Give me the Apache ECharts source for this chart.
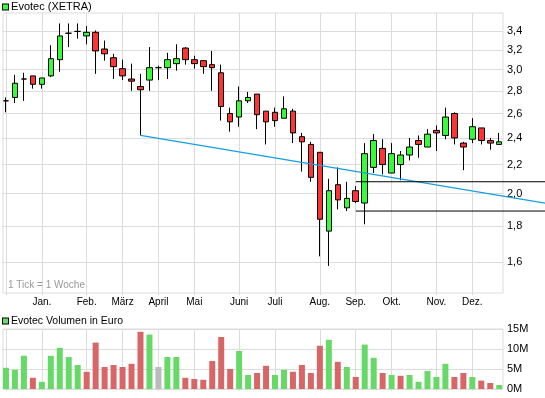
<!DOCTYPE html>
<html>
<head>
<meta charset="utf-8">
<script src="https://cdn.jsdelivr.net/npm/echarts@6/dist/echarts.min.js"></script>
<style>
  html, body { margin: 0; padding: 0; background: #fff; }
  #chart_evotec { width: 545px; height: 398px; }
</style>
</head>
<body>
<div id="chart_evotec"></div>
<script>
  // weekly candles (1 Tick = 1 Woche), index 0 = first week of December
  const opens = [2.71, 2.74, 2.91, 2.94, 2.86, 2.94, 3.10, 3.38, 3.40, 3.35,
    3.39, 3.21, 3.12, 3.01, 2.91, 2.84, 2.90, 3.02, 3.02, 3.06,
    3.22, 3.10, 3.09, 3.05, 2.97, 2.60, 2.57, 2.71, 2.77, 2.62,
    2.61, 2.56, 2.62, 2.41, 2.35, 2.29, 1.77, 2.06, 1.91, 2.02,
    1.94, 2.18, 2.32, 2.14, 2.20, 2.27, 2.38, 2.33, 2.46, 2.42,
    2.60, 2.36, 2.39, 2.48, 2.38, 2.35]
  const closes = [2.71, 2.87, 2.91, 2.86, 2.92, 3.11, 3.35, 3.38, 3.40, 3.39,
    3.19, 3.16, 3.03, 2.94, 2.89, 2.81, 3.02, 3.02, 3.10, 3.11,
    3.10, 3.06, 3.03, 3.02, 2.66, 2.53, 2.71, 2.74, 2.59, 2.53,
    2.54, 2.64, 2.44, 2.37, 2.11, 1.84, 2.02, 1.96, 1.97, 1.95,
    2.28, 2.38, 2.20, 2.28, 2.27, 2.33, 2.35, 2.43, 2.44, 2.57,
    2.40, 2.33, 2.49, 2.38, 2.36, 2.37]
  const lows = [2.61, 2.69, 2.71, 2.82, 2.82, 2.93, 2.98, 3.23, 3.32, 3.26,
    2.96, 3.09, 2.91, 2.90, 2.80, 2.42, 2.80, 2.90, 2.91, 2.99,
    3.05, 3.01, 2.96, 2.80, 2.54, 2.45, 2.49, 2.69, 2.47, 2.35,
    2.49, 2.56, 2.36, 2.15, 2.08, 1.63, 1.58, 1.90, 1.89, 1.94,
    1.81, 2.14, 2.13, 2.14, 2.09, 2.23, 2.25, 2.33, 2.30, 2.39,
    2.35, 2.16, 2.36, 2.35, 2.31, 2.35]
  const highs = [2.74, 2.95, 2.97, 2.94, 2.92, 3.25, 3.49, 3.49, 3.49, 3.46,
    3.41, 3.30, 3.16, 3.10, 3.06, 2.96, 3.23, 3.04, 3.17, 3.26,
    3.23, 3.14, 3.09, 3.19, 3.05, 2.65, 2.84, 2.79, 2.77, 2.62,
    2.65, 2.75, 2.64, 2.44, 2.37, 2.29, 2.10, 2.18, 2.08, 2.05,
    2.36, 2.43, 2.39, 2.36, 2.30, 2.40, 2.42, 2.47, 2.50, 2.65,
    2.61, 2.37, 2.56, 2.48, 2.40, 2.44]
  // Volumen in Mio. Euro
  const volumes = [5.3, 4.8, 8.3, 2.8, 1.8, 8.3, 10.3, 8.0, 6.0, 4.3,
    11.6, 5.5, 6.0, 5.5, 6.3, 14.3, 13.6, 5.5, 8.0, 8.0,
    2.8, 2.5, 2.3, 7.0, 13.0, 5.0, 9.5, 3.5, 4.0, 5.8,
    3.5, 4.8, 4.3, 6.0, 4.0, 10.8, 12.3, 6.8, 5.5, 3.0,
    11.1, 7.8, 4.0, 3.5, 3.3, 3.5, 1.8, 4.5, 3.0, 6.3,
    3.0, 4.0, 3.0, 2.1, 1.5, 1.0]

  const monthWeeks = [0, 4, 9, 13, 17, 21, 26, 30, 35, 39, 43, 48, 52]
  const monthLabels = ['', 'Jan.', 'Feb.', 'März', 'April', 'Mai', 'Juni', 'Juli',
    'Aug.', 'Sep.', 'Okt.', 'Nov.', 'Dez.']
  const priceTicks = [1.6, 1.8, 2.0, 2.2, 2.4, 2.6, 2.8, 3.0, 3.2, 3.4]
  const volumeTicks = [0, 5, 10, 15]

  // drawn lines: [week, price]
  const trendLine = [[15, 2.42], [60.1, 1.94]]
  const supportHigh = [[39, 2.08], [60.1, 2.08]]
  const supportLow = [[39, 1.89], [60.1, 1.89]]

  const FONT = 'Liberation Sans'
  const GRID_COLOR = '#dcdcdc'
  const PRICE_MIN = 1.4458
  const PRICE_MAX = 3.611

  let chart = echarts.init(document.getElementById('chart_evotec'), null, { renderer: 'canvas' })

  function monthName (v) {
    let i = monthWeeks.indexOf(Math.round(v))
    return i >= 0 ? monthLabels[i] : ''
  }

  function xAxisFor (grid, showLabels) {
    return {
      type: 'value',
      gridIndex: grid,
      min: -0.33,
      max: 55.42,
      axisLine: { show: false },
      axisTick: { show: true, length: 2, customValues: monthWeeks, lineStyle: { color: GRID_COLOR } },
      axisLabel: {
        show: showLabels,
        customValues: monthWeeks,
        formatter: monthName,
        margin: 4,
        fontSize: 10,
        fontFamily: FONT,
        color: '#000'
      },
      splitLine: { show: true, lineStyle: { color: GRID_COLOR, width: 1 } }
    }
  }

  function overlayLine (data, color, width) {
    return {
      type: 'line',
      xAxisIndex: 2,
      yAxisIndex: 2,
      symbol: 'none',
      silent: true,
      data: data,
      lineStyle: { color: color, width: width }
    }
  }

  let options = {
    animation: false,
    title: [
      {
        text: '{b|} Evotec (XETRA)',
        left: 3,
        top: 0,
        padding: 0,
        textStyle: {
          fontSize: 11, fontWeight: 'normal', fontFamily: FONT, color: '#000', lineHeight: 14,
          rich: { b: { width: 5, height: 5, backgroundColor: '#33ff33', borderColor: '#000', borderWidth: 1 } }
        }
      },
      {
        text: '{b|} Evotec Volumen in Euro',
        left: 3,
        top: 314,
        padding: 0,
        textStyle: {
          fontSize: 10.5, fontWeight: 'normal', fontFamily: FONT, color: '#000', lineHeight: 14,
          rich: { b: { width: 5, height: 5, backgroundColor: '#66dd66', borderColor: '#000', borderWidth: 1 } }
        }
      },
      {
        text: '1 Tick = 1 Woche',
        left: 8,
        top: 280,
        padding: 0,
        textStyle: { fontSize: 10, fontWeight: 'normal', fontFamily: FONT, color: '#999' }
      }
    ],
    grid: [
      { left: 3, right: 42, top: 13, bottom: 105, show: true, borderColor: GRID_COLOR, borderWidth: 1 },
      { left: 3, right: 42, top: 329, bottom: 9, show: true, borderColor: GRID_COLOR, borderWidth: 1 },
      // same price scale, stretched to the right edge for the drawn lines
      { left: 3, right: 0, top: 13, bottom: 105, show: false }
    ],
    xAxis: [
      xAxisFor(0, true),
      xAxisFor(1, false),
      { type: 'value', gridIndex: 2, min: -0.33, max: 60.1, show: false }
    ],
    yAxis: [
      {
        type: 'log',
        logBase: 10,
        gridIndex: 0,
        position: 'right',
        min: PRICE_MIN,
        max: PRICE_MAX,
        axisLine: { show: false },
        axisTick: { show: false, customValues: priceTicks },
        axisLabel: {
          customValues: priceTicks,
          margin: 4,
          fontSize: 11,
          fontFamily: FONT,
          color: '#000',
          formatter: (v) => v.toFixed(1).replace('.', ',')
        },
        splitLine: { show: true, lineStyle: { color: GRID_COLOR } }
      },
      {
        type: 'value',
        gridIndex: 1,
        position: 'right',
        min: 0,
        max: 15,
        interval: 5,
        axisLine: { show: false },
        axisTick: { show: false },
        axisLabel: {
          customValues: volumeTicks,
          margin: 4,
          fontSize: 11,
          fontFamily: FONT,
          color: '#000',
          formatter: (v) => v + 'M'
        },
        splitLine: { show: true, lineStyle: { color: GRID_COLOR } }
      },
      { type: 'log', logBase: 10, gridIndex: 2, min: PRICE_MIN, max: PRICE_MAX, show: false }
    ],
    series: [
      {
        name: 'Evotec (XETRA)',
        type: 'candlestick',
        xAxisIndex: 0,
        yAxisIndex: 0,
        barWidth: 6,
        encode: { x: 0, y: [1, 2, 3, 4] },
        data: opens.map((o, k) => [k, o, closes[k], lows[k], highs[k]]),
        itemStyle: {
          color: '#33ff33',
          color0: '#ff3333',
          borderColor: '#000',
          borderColor0: '#000',
          borderColorDoji: '#000',
          borderWidth: 1
        }
      },
      {
        name: 'Evotec Volumen in Euro',
        type: 'bar',
        xAxisIndex: 1,
        yAxisIndex: 1,
        barWidth: 6,
        data: volumes.map((v, k) => {
          // colour follows close vs. previous close
          let c = '#66d966'
          if (k > 0 && closes[k] < closes[k - 1]) c = '#d96666'
          if (k > 0 && closes[k] === closes[k - 1]) c = '#bbbbbb'
          return { value: [k, v], itemStyle: { color: c } }
        })
      },
      overlayLine(trendLine, '#12a0e0', 1.2),
      overlayLine(supportHigh, '#000', 1),
      overlayLine(supportLow, '#000', 1)
    ]
  }
  chart.setOption(options)
</script>
</body>
</html>
